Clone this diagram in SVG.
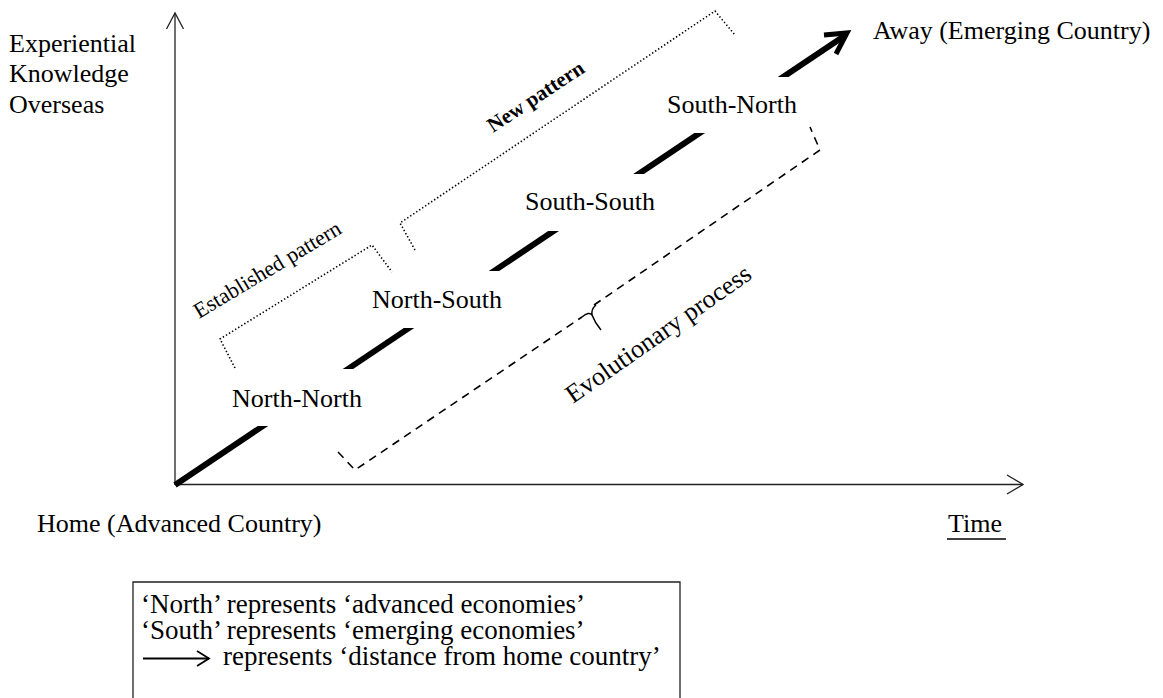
<svg xmlns="http://www.w3.org/2000/svg" width="1163" height="698" viewBox="0 0 1163 698">
<style>
  .t { font-family: "Liberation Serif", "Times New Roman", serif; font-size: 26px; fill: #000; }
  .lg { font-size: 27px; }
  .b { font-weight: bold; font-size: 21px; }
  .sm { font-size: 22px; }
  .axis { fill: none; stroke: #222; stroke-width: 1.3; }
  .dot { fill: none; stroke: #000; stroke-width: 1.6; stroke-dasharray: 1.4 2.2; }
  .dash { fill: none; stroke: #000; stroke-width: 1.6; stroke-dasharray: 8 6; }
  .thick { fill: none; stroke: #000; stroke-width: 6; }
</style>
<defs>
  <clipPath id="gaps" clipPathUnits="userSpaceOnUse">
    <rect x="150" y="426" width="200" height="70"/>
    <rect x="300" y="328" width="200" height="41"/>
    <rect x="450" y="231" width="200" height="40"/>
    <rect x="600" y="133" width="200" height="41"/>
    <rect x="740" y="10" width="200" height="67"/>
  </clipPath>
</defs>
<rect width="1163" height="698" fill="#fff"/>

<g id="axes">
  <line class="axis" x1="175" y1="485" x2="175" y2="13"/>
  <polyline class="axis" points="166.5,29 175,13 183.5,29"/>
  <line class="axis" x1="175" y1="484.5" x2="1023" y2="484.5"/>
  <polyline class="axis" points="1007,475 1023,484.5 1007,494"/>
</g>

<g id="connectors">
  <line class="thick" x1="175" y1="485" x2="845" y2="35.5" clip-path="url(#gaps)"/>
  <polyline points="824,35 847,33 836,54" fill="none" stroke="#000" stroke-width="5" stroke-linejoin="miter"/>
</g>

<g id="y-label">
  <text class="t" x="9" y="52">Experiential</text>
  <text class="t" x="9" y="82">Knowledge</text>
  <text class="t" x="9" y="113">Overseas</text>
</g>
<g id="away-label"><text class="t" x="873" y="39">Away (Emerging Country)</text></g>
<g id="home-label"><text class="t" x="37" y="532">Home (Advanced Country)</text></g>
<g id="time-label">
  <text class="t" x="948" y="532">Time</text>
  <line x1="947" y1="539" x2="1006" y2="539" stroke="#000" stroke-width="1.3"/>
</g>

<g id="north-north"><text class="t" x="232" y="407">North-North</text></g>
<g id="north-south"><text class="t" x="372" y="308">North-South</text></g>
<g id="south-south"><text class="t" x="525" y="210">South-South</text></g>
<g id="south-north"><text class="t" x="667" y="113">South-North</text></g>

<g id="established-pattern">
  <path class="dot" d="M235,368 L220,339 L372,245 L392,272"/>
  <text class="t sm" x="199" y="319" transform="rotate(-31 199 319)">Established pattern</text>
</g>

<g id="new-pattern">
  <path class="dot" d="M415,250 L400,223 L715,11 L735,35"/>
  <text class="t b" x="493" y="133" transform="rotate(-33.5 493 133)">New pattern</text>
</g>

<g id="evolutionary-process">
  <path class="dash" d="M338,452 L355,470 L582,317"/>
  <path class="dash" d="M594,305 L820,150 L810,127"/>
  <path d="M582,317 Q589,311 592,315 Q595,323 601,330 M592,315 Q591,309 596,305" fill="none" stroke="#000" stroke-width="1.5"/>
  <text class="t" x="573" y="404" transform="rotate(-35 573 404)">Evolutionary process</text>
</g>

<g id="legend">
  <path d="M133,700 L133,582 L680,582 L680,700" fill="none" stroke="#222" stroke-width="1.3"/>
  <text class="t lg" x="141" y="613">‘North’ represents ‘advanced economies’</text>
  <text class="t lg" x="141" y="639">‘South’ represents ‘emerging economies’</text>
  <line x1="143" y1="658.5" x2="209" y2="658.5" stroke="#000" stroke-width="1.8"/>
  <polyline points="197,651 209,658.5 197,666" fill="none" stroke="#000" stroke-width="1.8"/>
  <text class="t lg" x="223" y="665">represents ‘distance from home country’</text>
</g>
</svg>
